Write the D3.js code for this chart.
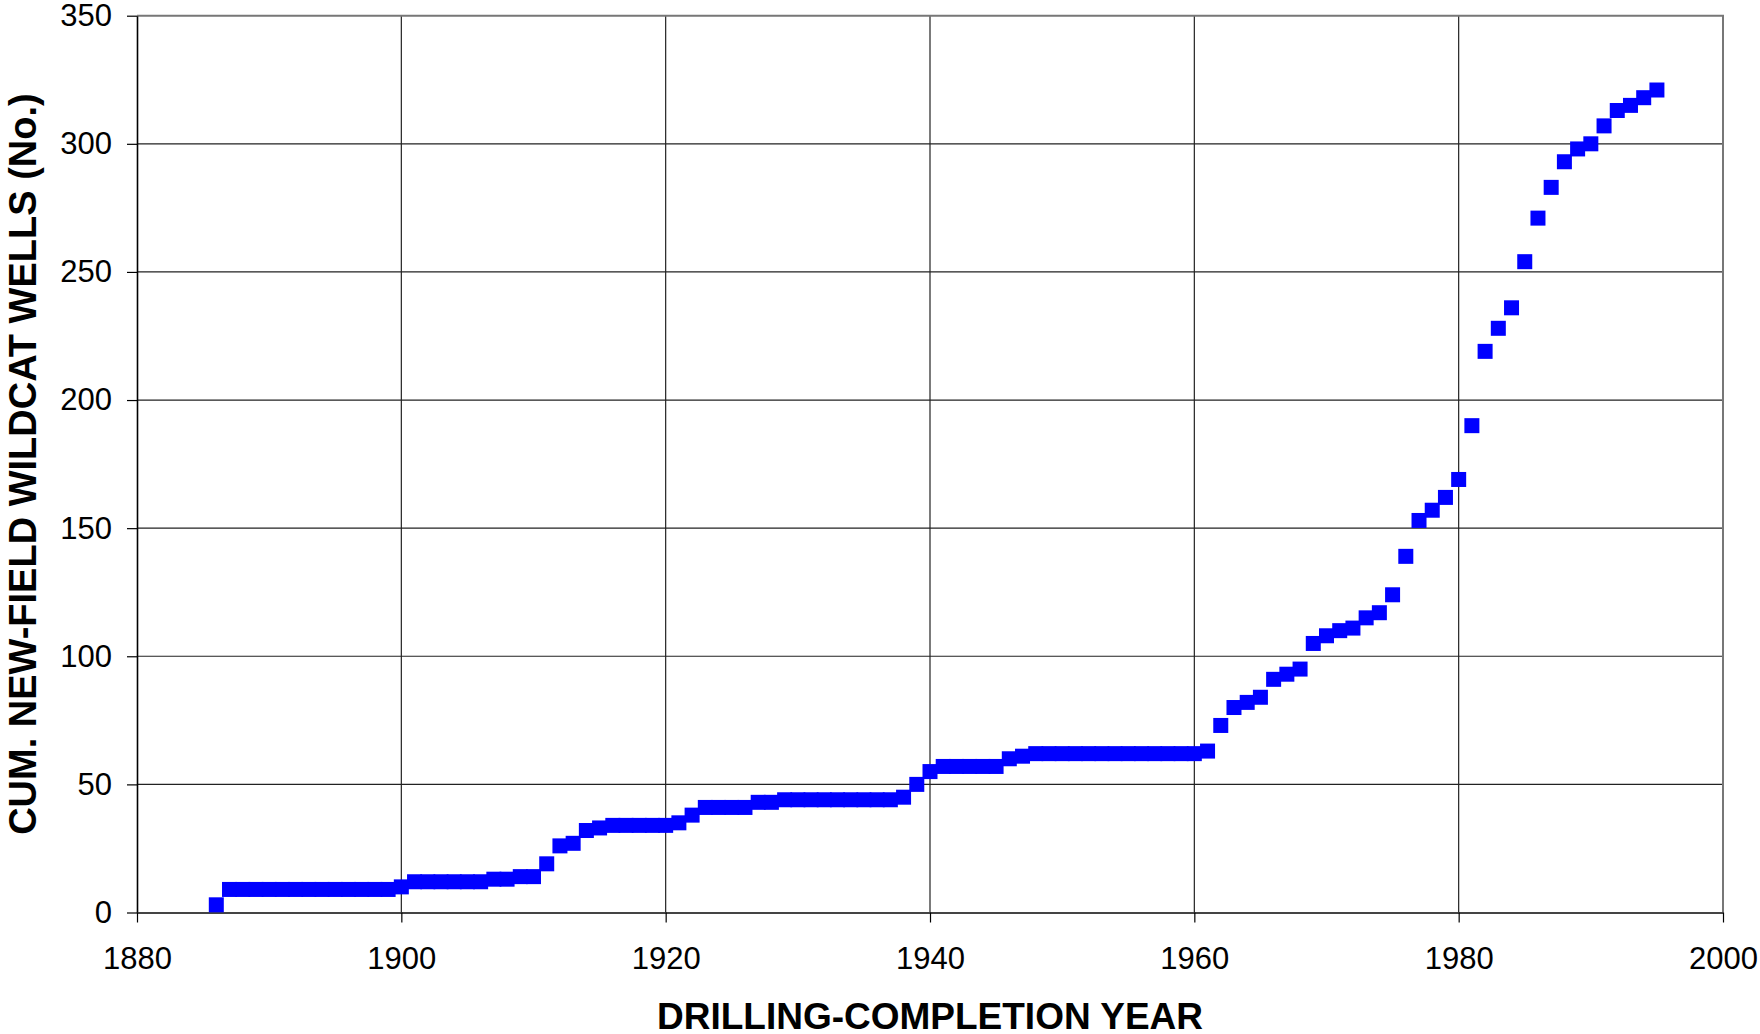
<html>
<head>
<title>Cumulative new-field wildcat wells</title>
<script src="https://d3js.org/d3.v7.min.js"></script>
<style>
  body { margin: 0; background: #fff; }
  text { font-family: "Liberation Sans", Arial, sans-serif; fill: #000; }
</style>
</head>
<body>
<script>

// drilling-completion years
var years = [
  1886, 1887, 1888, 1889, 1890, 1891, 1892, 1893, 1894, 1895, 1896, 1897, 1898, 1899,
  1900, 1901, 1902, 1903, 1904, 1905, 1906, 1907, 1908, 1909, 1910, 1911, 1912, 1913,
  1914, 1915, 1916, 1917, 1918, 1919, 1920, 1921, 1922, 1923, 1924, 1925, 1926, 1927,
  1928, 1929, 1930, 1931, 1932, 1933, 1934, 1935, 1936, 1937, 1938, 1939, 1940, 1941,
  1942, 1943, 1944, 1945, 1946, 1947, 1948, 1949, 1950, 1951, 1952, 1953, 1954, 1955,
  1956, 1957, 1958, 1959, 1960, 1961, 1962, 1963, 1964, 1965, 1966, 1967, 1968, 1969,
  1970, 1971, 1972, 1973, 1974, 1975, 1976, 1977, 1978, 1979, 1980, 1981, 1982, 1983,
  1984, 1985, 1986, 1987, 1988, 1989, 1990, 1991, 1992, 1993, 1994, 1995
];

// cumulative new-field wildcat wells
var cumWells = [
  3, 9, 9, 9, 9, 9, 9, 9, 9, 9, 9, 9, 9, 9,
  10, 12, 12, 12, 12, 12, 12, 13, 13, 14, 14, 19, 26, 27,
  32, 33, 34, 34, 34, 34, 34, 35, 38, 41, 41, 41, 41, 43,
  43, 44, 44, 44, 44, 44, 44, 44, 44, 44, 45, 50, 55, 57,
  57, 57, 57, 57, 60, 61, 62, 62, 62, 62, 62, 62, 62, 62,
  62, 62, 62, 62, 62, 63, 73, 80, 82, 84, 91, 93, 95, 105,
  108, 110, 111, 115, 117, 124, 139, 153, 157, 162, 169, 190, 219, 228,
  236, 254, 271, 283, 293, 298, 300, 307, 313, 315, 318, 321
];

var xTicks = [1880, 1900, 1920, 1940, 1960, 1980, 2000];
var yTicks = [0, 50, 100, 150, 200, 250, 300, 350];

var data = years.map(function(yr, i) { return { year: yr, wells: cumWells[i] }; });

var width = 1760, height = 1034;
var pL = 137, pR = 1723, pT = 15.7, pB = 912.5;

var svg = d3.select('body')
  .append('svg')
  .attr('width', width)
  .attr('height', height);

var x = d3.scaleLinear().domain([1880, 2000]).range([pL, pR]);
var y = d3.scaleLinear().domain([0, 350]).range([pB, pT]);

// grid
var grid = svg.append('g');
grid.selectAll('line.h')
  .data(yTicks.slice(1, -1))
  .enter().append('line')
  .attr('class', 'h')
  .attr('x1', pL).attr('x2', pR)
  .attr('y1', function(d) { return y(d); })
  .attr('y2', function(d) { return y(d); })
  .attr('stroke', '#222').attr('stroke-width', 1.2);
grid.selectAll('line.v')
  .data(xTicks.slice(1, -1))
  .enter().append('line')
  .attr('class', 'v')
  .attr('y1', pT).attr('y2', pB)
  .attr('x1', function(d) { return x(d); })
  .attr('x2', function(d) { return x(d); })
  .attr('stroke', '#222').attr('stroke-width', 1.2);

// top and right border
svg.append('path')
  .attr('d', 'M' + pL + ',' + pT + 'H' + pR + 'V' + pB)
  .attr('fill', 'none')
  .attr('stroke', '#777')
  .attr('stroke-width', 2);

// axes
var yAxis = svg.append('g')
  .attr('transform', 'translate(' + pL + ',0)')
  .call(d3.axisLeft(y).tickValues(yTicks).tickSize(10).tickPadding(15).tickSizeOuter(0));
var xAxis = svg.append('g')
  .attr('transform', 'translate(0,' + pB + ')')
  .call(d3.axisBottom(x).tickValues(xTicks).tickFormat(d3.format('d')).tickSize(10).tickPadding(24).tickSizeOuter(0));

[yAxis, xAxis].forEach(function(a) {
  a.selectAll('text').style('font-size', '31px').attr('font-family', null);
  a.selectAll('line').attr('stroke', '#000').attr('stroke-width', 1.2);
  a.select('.domain').attr('stroke', '#000').attr('stroke-width', 1.6);
});
xAxis.select('.domain').attr('stroke', '#444').attr('stroke-width', 2.2);

// markers
svg.append('g')
  .selectAll('rect')
  .data(data)
  .enter()
  .append('rect')
  .attr('x', function(d) { return x(d.year) - 7.5; })
  .attr('y', function(d) { return y(d.wells) - 7.5; })
  .attr('width', 15)
  .attr('height', 15)
  .attr('fill', '#0000FF');

// titles
svg.append('text')
  .attr('x', (pL + pR) / 2)
  .attr('y', 1029)
  .attr('text-anchor', 'middle')
  .style('font-size', '37px')
  .style('font-weight', 'bold')
  .text('DRILLING-COMPLETION YEAR');

svg.append('text')
  .attr('transform', 'translate(36,' + (pT + pB) / 2 + ') rotate(-90)')
  .attr('text-anchor', 'middle')
  .style('font-size', '38px')
  .style('font-weight', 'bold')
  .text('CUM. NEW-FIELD WILDCAT WELLS (No.)');

</script>
</body>
</html>
